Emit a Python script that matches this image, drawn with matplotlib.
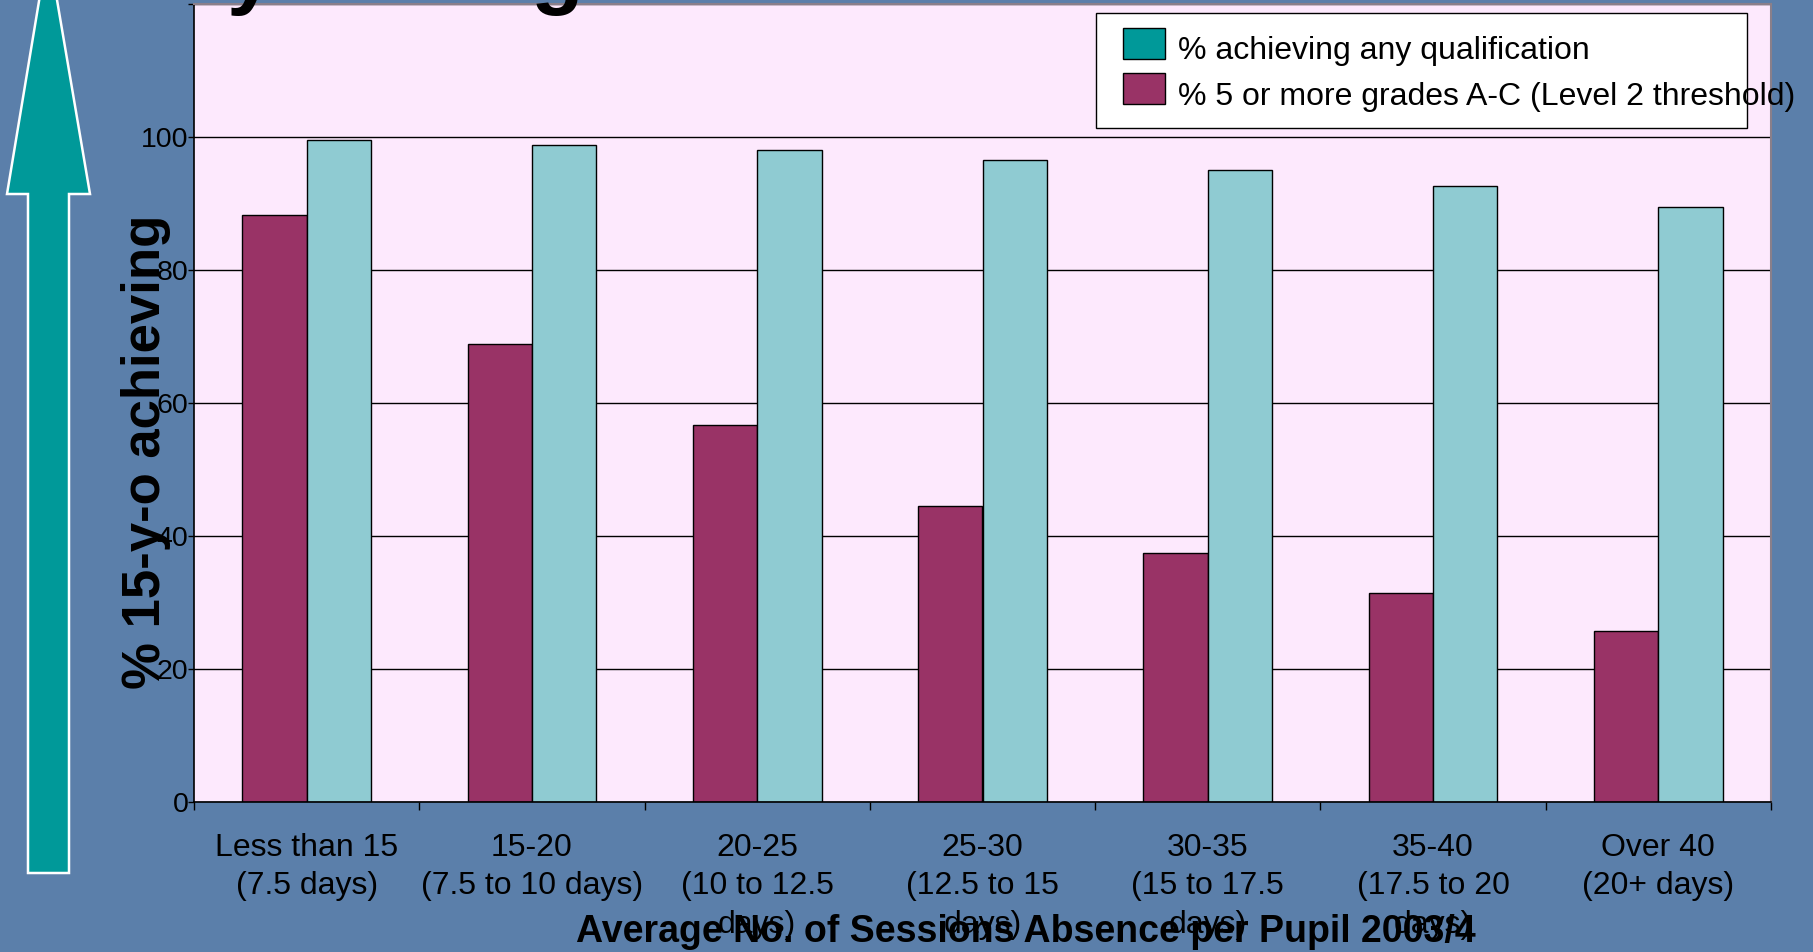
import numpy as np
import matplotlib
matplotlib.use("Agg")
import matplotlib.pyplot as plt
from matplotlib.patches import Polygon, Rectangle

plt.rcParams['font.family'] = ['Liberation Sans', 'DejaVu Sans']

# ---- data ----
categories = [
    "Less than 15\n(7.5 days)",
    "15-20\n(7.5 to 10 days)",
    "20-25\n(10 to 12.5\ndays)",
    "25-30\n(12.5 to 15\ndays)",
    "30-35\n(15 to 17.5\ndays)",
    "35-40\n(17.5 to 20\ndays)",
    "Over 40\n(20+ days)",
]
pct_five_ac = [88.2, 68.9, 56.7, 44.5, 37.4, 31.5, 25.7]
pct_any_qual = [99.5, 98.8, 98.0, 96.5, 95.0, 92.7, 89.4]
series_labels = ["% achieving any qualification",
                 "% 5 or more grades A-C (Level 2 threshold)"]
y_ticks = [0, 20, 40, 60, 80, 100, 120]
y_tick_labels = ["0", "20", "40", "60", "80", "100", ""]
x_title = "Average No. of Sessions Absence per Pupil 2003/4"
y_title = "% 15-y-o achieving"

# ---- styling ----
W, H = 1813, 952
BG = '#5B7FAA'
PLOT_BG = '#FDE9FD'
MAROON = '#993366'
TEAL_BAR = '#8FCBD2'
TEAL_KEY = '#009999'

fig = plt.figure(figsize=(W / 100, H / 100), dpi=100)
fig.patch.set_facecolor(BG)

# main chart area (pixel box converted to figure fractions)
left, right, top, bottom = 194, 1771, 4, 802
ax = fig.add_axes([left / W, (H - bottom) / H, (right - left) / W, (bottom - top) / H],
                  zorder=1)
ax.set_facecolor(PLOT_BG)

x = np.arange(len(categories))
bw = 0.2857
ax.bar(x - bw / 2, pct_five_ac, bw, color=MAROON, edgecolor='black', linewidth=1, zorder=2)
ax.bar(x + bw / 2, pct_any_qual, bw, color=TEAL_BAR, edgecolor='black', linewidth=1, zorder=2)

ax.set_xlim(-0.5, len(categories) - 0.5)
ax.set_ylim(0, 120)
ax.set_yticks(y_ticks)
ax.set_yticklabels(y_tick_labels, fontsize=20.5)
ax.yaxis.grid(True, color='black', linewidth=1)
ax.set_axisbelow(True)
ax.tick_params(axis='y', length=4, width=1, pad=0, colors='black')

ax.set_xticks(x)
ax.set_xticklabels(categories, fontsize=23, linespacing=1.37)
ax.set_xticks(np.arange(len(categories) + 1) - 0.5, minor=True)
ax.tick_params(axis='x', which='major', length=0, pad=22)
ax.tick_params(axis='x', which='minor', length=6, width=1, direction='out')

for side in ('left', 'bottom'):
    ax.spines[side].set_color('black')
    ax.spines[side].set_linewidth(1.2)
for side in ('top', 'right'):
    ax.spines[side].set_color('#8a7f8a')
    ax.spines[side].set_linewidth(1.5)

# overlay in pixel coordinates for decorations, key and titles
ov = fig.add_axes([0, 0, 1, 1], zorder=3)
ov.set_xlim(0, W)
ov.set_ylim(H, 0)
ov.axis('off')
ov.patch.set_alpha(0)

# upward arrow on the left
arrow = Polygon([(48, -53), (90, 194), (69, 194), (69, 873), (28, 873), (28, 194), (7, 194)],
                closed=True, facecolor=TEAL_KEY, edgecolor='white', linewidth=1.8)
ov.add_patch(arrow)

# heading running off the top edge
ov.text(226, -2, "y", fontsize=62, fontweight='bold', ha='left', va='baseline', clip_on=False)
ov.text(531, -2, "g", fontsize=62, fontweight='bold', ha='left', va='baseline', clip_on=False)

# key
ov.add_patch(Rectangle((1096, 13), 651, 115, facecolor='white', edgecolor='black', linewidth=1))
key_colors = [TEAL_KEY, MAROON]
key_rows = [43.5, 88.5]
for lab, col, yc in zip(series_labels, key_colors, key_rows):
    ov.add_patch(Rectangle((1123, yc - 15.5), 42, 31, facecolor=col, edgecolor='black', linewidth=1))
    ov.text(1178, yc + 8, lab, fontsize=23, ha='left', va='center')

# axis titles
ov.text(1026, 942, x_title, fontsize=27, fontweight='bold', ha='center', va='baseline')
ov.text(146, 452, y_title, fontsize=38, fontweight='bold', rotation=90,
        ha='center', va='center')

fig.savefig("out.png", dpi=100, facecolor=fig.get_facecolor())
